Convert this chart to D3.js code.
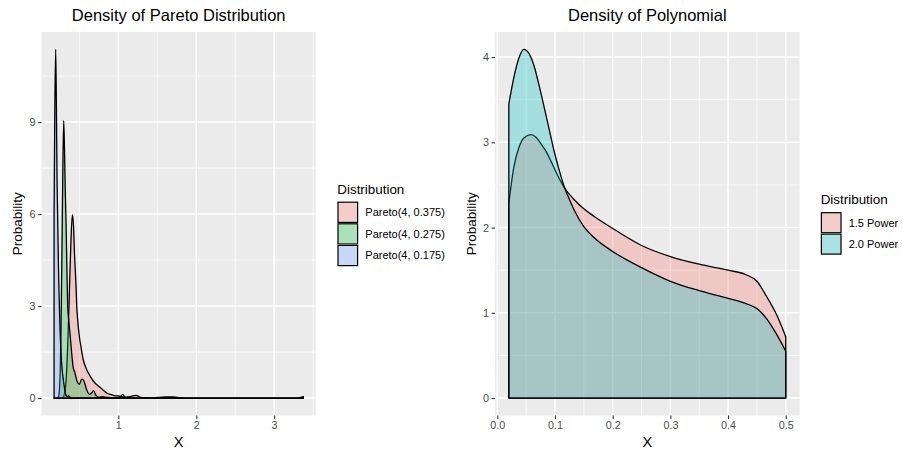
<!DOCTYPE html>
<html><head><meta charset="utf-8">
<script src="https://cdn.jsdelivr.net/npm/d3@7"></script>
<style>body{margin:0;background:#fff}svg{display:block;font-family:"Liberation Sans",Arial,Helvetica,sans-serif}</style>
</head><body><svg id="chart" width="902" height="451"></svg>
<script>
// ---------- data ----------
const paretoLabels = ["Pareto(4, 0.375)", "Pareto(4, 0.275)", "Pareto(4, 0.175)"];
const paretoColors = ["#F8766D", "#00BA38", "#619CFF"];
const paretoXRange = [0.175, 3.375];
const pareto375 = [[0.175,0],[0.28,0],[0.29,0.02],[0.31,0.15],[0.33,0.6],[0.35,1.7],[0.37,3.3],[0.39,5.0],[0.41,5.98],[0.425,5.6],[0.437,4.73],[0.457,3.64],[0.466,3.0],[0.48,2.5],[0.5,2.0],[0.525,1.6],[0.55,1.25],[0.59,0.95],[0.64,0.71],[0.7,0.49],[0.76,0.36],[0.81,0.25],[0.86,0.15],[0.9,0.12],[0.95,0.08],[1.0,0.07],[1.05,0.05],[1.1,0.03],[1.15,0.05],[1.2,0.08],[1.23,0.09],[1.27,0.04],[1.32,0.01],[1.45,0.005],[1.55,0.03],[1.62,0.04],[1.7,0.04],[1.76,0.02],[1.85,0],[3.3,0],[3.375,0.05]];
const pareto275 = [[0.175,0],[0.22,0],[0.23,0.03],[0.24,0.15],[0.25,0.6],[0.26,1.6],[0.268,3.0],[0.277,5.0],[0.288,7.5],[0.299,9.05],[0.31,8.0],[0.32,6.6],[0.329,5.7],[0.34,4.2],[0.35,3.0],[0.365,2.5],[0.38,2.1],[0.4,1.5],[0.42,1.0],[0.44,0.85],[0.47,0.55],[0.5,0.45],[0.53,0.62],[0.555,0.58],[0.59,0.3],[0.63,0.12],[0.66,0.18],[0.68,0.24],[0.71,0.1],[0.75,0.03],[0.8,0.05],[0.85,0.02],[0.95,0.01],[1.02,0.03],[1.055,0.12],[1.09,0.02],[1.15,0],[3.375,0]];
const pareto175 = [[0.175,6.0],[0.185,9.5],[0.196,11.37],[0.205,9.5],[0.213,7.2],[0.222,5.8],[0.232,4.2],[0.243,3.0],[0.254,2.1],[0.264,1.48],[0.28,0.9],[0.294,0.6],[0.31,0.3],[0.33,0.08],[0.345,0.05],[0.36,0.07],[0.38,0.03],[0.4,0],[3.375,0]];
const paretoSeries = [pareto375, pareto275, pareto175];
const paretoXTicks = [1, 2, 3];
const paretoXMinor = [0.5, 1.5, 2.5, 3.5];
const paretoYTicks = [0, 3, 6, 9];
const paretoYMinor = [1.5, 4.5, 7.5, 10.5];

const polyLabels = ["1.5 Power", "2.0 Power"];
const polyColors = ["#F8766D", "#00BFC4"];
const polyXRange = [0.02, 0.5];
const power15 = [[0.02,2.29],[0.029,2.72],[0.037,2.93],[0.046,3.05],[0.058,3.09],[0.067,3.06],[0.075,2.99],[0.084,2.9],[0.093,2.78],[0.104,2.62],[0.116,2.47],[0.133,2.33],[0.15,2.22],[0.168,2.13],[0.2,1.99],[0.25,1.79],[0.3,1.66],[0.35,1.57],[0.4,1.5],[0.43,1.45],[0.45,1.37],[0.467,1.19],[0.484,0.98],[0.5,0.72]];
const power20 = [[0.02,3.45],[0.029,3.77],[0.037,3.98],[0.046,4.09],[0.055,4.04],[0.064,3.89],[0.072,3.68],[0.081,3.42],[0.09,3.15],[0.098,2.91],[0.107,2.68],[0.116,2.48],[0.125,2.33],[0.133,2.21],[0.15,2.01],[0.168,1.88],[0.2,1.72],[0.25,1.53],[0.3,1.37],[0.35,1.26],[0.4,1.17],[0.43,1.11],[0.45,1.05],[0.467,0.93],[0.484,0.75],[0.5,0.55]];
const polySeries = [power15, power20];
const polyXTicks = [0, 0.1, 0.2, 0.3, 0.4, 0.5];
const polyXMinor = [0.05, 0.15, 0.25, 0.35, 0.45];
const polyYTicks = [0, 1, 2, 3, 4];
const polyYMinor = [0.5, 1.5, 2.5, 3.5];

// ---------- drawing ----------
const svg = d3.select("#chart");
const ALPHA = 0.3;

function expand(ext) { const d = (ext[1] - ext[0]) * 0.05; return [ext[0] - d, ext[1] + d]; }

function drawPanel(o) {
  const g = svg.append("g");
  const yMax = d3.max(o.series, s => d3.max(s, d => d[1]));
  const x = d3.scaleLinear().domain(expand(o.xRange)).range([o.left, o.right]);
  const y = d3.scaleLinear().domain(expand([0, yMax])).range([o.bottom, o.top]);
  g.append("rect").attr("x", o.left).attr("y", o.top).attr("width", o.right - o.left).attr("height", o.bottom - o.top).attr("fill", "#EBEBEB");
  // minor grid
  g.selectAll(".mx").data(o.xMinor.filter(v => x(v) >= o.left && x(v) <= o.right)).join("line")
    .attr("x1", d => x(d)).attr("x2", d => x(d)).attr("y1", o.top).attr("y2", o.bottom).attr("stroke", "#fff").attr("stroke-width", 0.75);
  g.selectAll(".my").data(o.yMinor).join("line")
    .attr("y1", d => y(d)).attr("y2", d => y(d)).attr("x1", o.left).attr("x2", o.right).attr("stroke", "#fff").attr("stroke-width", 0.75);
  // major grid
  g.selectAll(".Mx").data(o.xTicks).join("line")
    .attr("x1", d => x(d)).attr("x2", d => x(d)).attr("y1", o.top).attr("y2", o.bottom).attr("stroke", "#fff").attr("stroke-width", 1.5);
  g.selectAll(".My").data(o.yTicks).join("line")
    .attr("y1", d => y(d)).attr("y2", d => y(d)).attr("x1", o.left).attr("x2", o.right).attr("stroke", "#fff").attr("stroke-width", 1.5);
  // areas
  const area = d3.area().x(d => x(d[0])).y0(y(0)).y1(d => y(d[1])).curve(d3.curveMonotoneX);
  o.series.forEach((s, i) => {
    g.append("path").attr("d", area(s) + "Z").attr("fill", o.colors[i]).attr("fill-opacity", ALPHA)
      .attr("stroke", "#000").attr("stroke-width", 1.3).attr("stroke-linejoin", "round");
  });
  // axes
  const xa = g.append("g").attr("transform", `translate(0,${o.bottom})`)
    .call(d3.axisBottom(x).tickValues(o.xTicks).tickFormat(o.xFmt).tickSize(3.4).tickPadding(2.6));
  const ya = g.append("g").attr("transform", `translate(${o.left},0)`)
    .call(d3.axisLeft(y).tickValues(o.yTicks).tickFormat(o.yFmt).tickSize(3.4).tickPadding(2.6));
  [xa, ya].forEach(a => {
    a.select(".domain").remove();
    a.selectAll(".tick line").attr("stroke", "#333333").attr("stroke-width", 1.1);
    a.selectAll(".tick text").attr("fill", "#4D4D4D").attr("font-size", 10.8).attr("font-family", null);
  });
  // titles
  const cx = (o.left + o.right) / 2;
  svg.append("text").attr("x", cx).attr("y", 21).attr("text-anchor", "middle").attr("font-size", 16.5).attr("fill", "#000").text(o.title);
  svg.append("text").attr("x", cx).attr("y", 446.5).attr("text-anchor", "middle").attr("font-size", 14.5).attr("fill", "#000").text("X");
  svg.append("text").attr("transform", `translate(${o.yLabelX},${(o.top + o.bottom) / 2}) rotate(-90)`)
    .attr("text-anchor", "middle").attr("font-size", 13.5).attr("fill", "#000").text("Probability");
  // legend
  const lg = svg.append("g");
  lg.append("text").attr("x", o.legX).attr("y", o.legTitleY).attr("font-size", 13.4).attr("fill", "#000").text("Distribution");
  o.labels.forEach((lab, i) => {
    const ky = o.legKeyY + i * o.keyH;
    lg.append("rect").attr("x", o.legX).attr("y", ky).attr("width", 21).attr("height", o.keyH).attr("fill", "#F2F2F2");
    lg.append("rect").attr("x", o.legX + 0.7).attr("y", ky + 0.7).attr("width", 19.6).attr("height", o.keyH - 1.4)
      .attr("fill", o.colors[i]).attr("fill-opacity", ALPHA).attr("stroke", "#000").attr("stroke-width", 1.2);
    lg.append("text").attr("x", o.legX + 28).attr("y", ky + o.keyH / 2).attr("dy", "0.35em").attr("font-size", 11).attr("fill", "#000").text(lab);
  });
}

drawPanel({
  left: 41.6, right: 315.8, top: 32, bottom: 415.5,
  xRange: paretoXRange, series: paretoSeries, colors: paretoColors, labels: paretoLabels,
  xTicks: paretoXTicks, xMinor: paretoXMinor, yTicks: paretoYTicks, yMinor: paretoYMinor,
  xFmt: d3.format("d"), yFmt: d3.format("d"),
  title: "Density of Pareto Distribution", yLabelX: 22,
  legX: 337.3, legTitleY: 194, legKeyY: 201.5, keyH: 21.6
});
drawPanel({
  left: 495, right: 799.6, top: 32, bottom: 415.5,
  xRange: polyXRange, series: polySeries, colors: polyColors, labels: polyLabels,
  xTicks: polyXTicks, xMinor: polyXMinor, yTicks: polyYTicks, yMinor: polyYMinor,
  xFmt: d3.format(".1f"), yFmt: d3.format("d"),
  title: "Density of Polynomial", yLabelX: 476,
  legX: 820.7, legTitleY: 204, legKeyY: 212, keyH: 21.4
});
</script></body></html>
